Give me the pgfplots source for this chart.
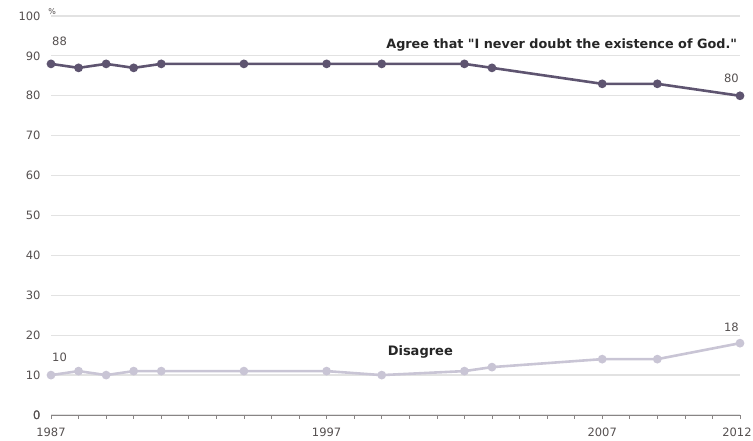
\documentclass[border=0pt]{standalone}
\usepackage{pgfplots}
\pgfplotsset{compat=1.18}
\usepackage{fontspec}
\setmainfont{DejaVu Sans}[Ligatures=TeXOff]
\definecolor{agree}{HTML}{5E5470}
\definecolor{disagree}{HTML}{C9C5D5}
\definecolor{txt}{HTML}{555050}
\definecolor{gridc}{HTML}{E2E2E2}
\pgfplotstableread{
year val
1987 88
1988 87
1989 88
1990 87
1991 88
1994 88
1997 88
1999 88
2002 88
2003 87
2007 83
2009 83
2012 80
}\agreetab
\pgfplotstableread{
year val
1987 10
1988 11
1989 10
1990 11
1991 11
1994 11
1997 11
1999 10
2002 11
2003 12
2007 14
2009 14
2012 18
}\disagreetab
\begin{document}
\begin{tikzpicture}
\begin{axis}[
  anchor=south west, at={(0,0)},
  scale only axis, width=689pt, height=399pt,
  xmin=1987, xmax=2012, ymin=0, ymax=100,
  axis line style={draw=none},
  axis x line*=bottom,
  ytick={0,10,...,100},
  xtick={1987,1997,2007},
  minor xtick={1987,...,2012},
  extra x ticks={2012},
  extra x tick style={xticklabel style={xshift=-3pt}},
  xticklabel style={/pgf/number format/1000 sep={}, yshift=-5pt},
  yticklabel style={xshift=-3pt},
  /pgf/number format/assume math mode=true,
  ticklabel style={font=\fontsize{11.5}{13}\selectfont, text=txt},
  ymajorgrids, major grid style={draw=gridc, line width=1.2pt},
  y tick style={draw=none},
  x tick style={draw=txt!70, line width=0.6pt},
  major tick length=4pt, minor tick length=4pt,
  tick align=outside,
  extra y ticks={0},
  extra y tick style={grid=none},
  clip=false,
]
\draw[txt!70, line width=0.8pt] (axis cs:1987,0) -- (axis cs:2012,0);
\addplot[agree, line width=2.6pt, mark=*, mark size=3pt] table[x=year,y=val] {\agreetab};
\addplot[disagree, line width=2.6pt, mark=*, mark size=3pt] table[x=year,y=val] {\disagreetab};
\node[anchor=south west, text=txt, font=\fontsize{11.5}{13}\selectfont, inner sep=1pt] at (axis cs:1987,92.2) {88};
\node[anchor=south east, text=txt, font=\fontsize{11.5}{13}\selectfont, inner sep=1pt] at (axis cs:2012,83) {80};
\node[anchor=south west, text=txt, font=\fontsize{11.5}{13}\selectfont, inner sep=1pt] at (axis cs:1987,13) {10};
\node[anchor=south east, text=txt, font=\fontsize{11.5}{13}\selectfont, inner sep=1pt] at (axis cs:2012,20.5) {18};
\node[anchor=east, font=\bfseries\fontsize{12.8}{14}\selectfont, text=black!85, inner sep=0pt] at (axis cs:2011.9,92.7) {Agree that "I never doubt the existence of God."};
\node[font=\bfseries\fontsize{13}{14}\selectfont, text=black!85, inner sep=0pt] at (axis cs:2000.4,15.8) {Disagree};
\node[anchor=south west, font=\fontsize{8}{9}\selectfont, text=txt, inner sep=0pt] at (axis cs:1986.9,100.3) {\%};
\end{axis}
\pgfresetboundingbox
\path[use as bounding box] (-51pt,-26pt) rectangle (702pt,415pt);
\end{tikzpicture}
\end{document}
